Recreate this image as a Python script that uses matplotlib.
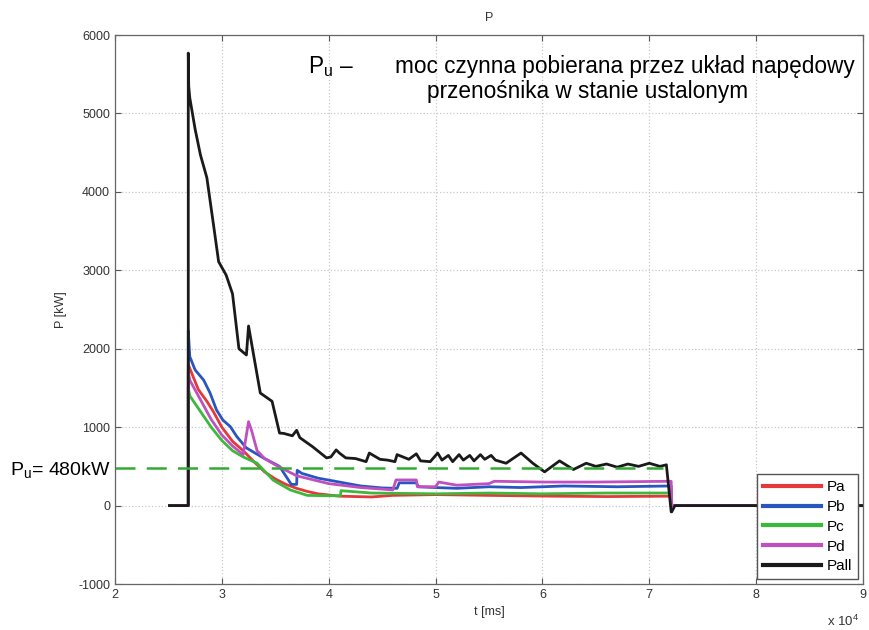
import matplotlib
matplotlib.use("Agg")
import matplotlib.pyplot as plt

plt.rcParams['font.family'] = ['Liberation Sans', 'DejaVu Sans']
plt.rcParams['mathtext.fontset'] = 'custom'
plt.rcParams['mathtext.rm'] = 'Liberation Sans'
plt.rcParams['mathtext.it'] = 'Liberation Sans'
plt.rcParams['axes.unicode_minus'] = False

# time in units of 10^4 ms, power in kW
pall_t = [2.51, 2.686, 2.686, 2.69, 2.70, 2.75, 2.80, 2.86, 2.92, 2.97, 3.04, 3.10,
          3.16, 3.23, 3.25, 3.30, 3.36, 3.47, 3.54, 3.58, 3.66, 3.70, 3.73, 3.85,
          3.98, 4.02, 4.07, 4.10, 4.16, 4.25, 4.35, 4.38, 4.48, 4.55, 4.62, 4.64,
          4.75, 4.82, 4.86, 4.95, 5.02, 5.06, 5.12, 5.16, 5.22, 5.26, 5.32, 5.36,
          5.42, 5.46, 5.52, 5.56, 5.66, 5.80, 5.91, 6.02, 6.16, 6.29, 6.41, 6.5,
          6.6, 6.7, 6.8, 6.9, 7.0, 7.1, 7.16, 7.205, 7.21, 7.24, 9.0]
pall_p = [0, 0, 5770, 5350, 5200, 4800, 4470, 4180, 3600, 3110, 2940, 2700,
          2000, 1920, 2290, 1900, 1435, 1330, 925, 920, 890, 960, 866, 750,
          608, 620, 710, 670, 608, 600, 560, 670, 590, 580, 560, 650,
          590, 660, 570, 560, 670, 580, 640, 560, 650, 580, 640, 570,
          650, 590, 640, 580, 540, 670, 540, 430, 570, 460, 540, 500,
          530, 490, 530, 500, 540, 500, 520, -80, -80, 0, 0]

pa_t = [2.51, 2.686, 2.686, 2.70, 2.78, 2.86, 2.92, 3.0, 3.1, 3.2, 3.3, 3.4,
        3.5, 3.6, 3.7, 3.8, 3.9, 4.1, 4.4, 4.6, 5.0, 5.5, 6.1, 6.6, 7.205, 7.21, 9.0]
pa_p = [0, 0, 1800, 1750, 1480, 1330, 1200, 1000, 820, 700, 560, 430,
        340, 270, 220, 180, 150, 120, 110, 130, 140, 130, 120, 115, 120, 0, 0]

pb_t = [2.51, 2.686, 2.686, 2.70, 2.75, 2.83, 2.89, 2.95, 3.01, 3.08, 3.14, 3.23,
        3.39, 3.54, 3.65, 3.70, 3.705, 3.75, 3.9, 4.1, 4.3, 4.5, 4.64, 4.66, 4.82,
        4.84, 5.0, 5.2, 5.5, 5.8, 6.2, 6.7, 7.205, 7.21, 9.0]
pb_p = [0, 0, 2230, 1900, 1730, 1600, 1435, 1220, 1090, 1006, 880, 735,
        607, 500, 270, 270, 450, 410, 350, 300, 250, 225, 220, 290, 290,
        240, 230, 220, 240, 230, 250, 240, 250, 0, 0]

pc_t = [2.51, 2.686, 2.686, 2.70, 2.8, 2.9, 3.0, 3.1, 3.2, 3.33, 3.48, 3.64,
        3.80, 3.95, 4.11, 4.115, 4.4, 5.0, 5.5, 6.0, 6.6, 7.205, 7.21, 9.0]
pc_p = [0, 0, 1500, 1400, 1200, 1000, 830, 700, 620, 540, 325, 200,
        130, 126, 126, 190, 160, 150, 160, 150, 160, 160, 0, 0]

pd_t = [2.51, 2.686, 2.686, 2.70, 2.8, 2.9, 3.0, 3.1, 3.2, 3.25, 3.28, 3.33,
        3.4, 3.5, 3.6, 3.7, 3.85, 4.0, 4.3, 4.6, 4.63, 4.82, 4.83, 5.0, 5.03,
        5.2, 5.5, 5.55, 6.0, 6.5, 7.205, 7.21, 9.0]
pd_p = [0, 0, 1700, 1600, 1350, 1100, 900, 760, 650, 1070, 950, 700,
        600, 520, 450, 380, 330, 280, 230, 200, 327, 327, 240, 240, 300,
        260, 280, 310, 300, 300, 310, 0, 0]

pu_value = 480
pu_t = [2.0, 7.13]

fig = plt.figure(figsize=(8.69, 6.30), dpi=100)
ax = fig.add_axes([0.1323, 0.0730, 0.8608, 0.8714])

ax.plot(pa_t, pa_p, color='#e23a3a', lw=2, label='Pa')
ax.plot(pb_t, pb_p, color='#2a55c0', lw=2, label='Pb')
ax.plot(pc_t, pc_p, color='#3cb83c', lw=2, label='Pc')
ax.plot(pd_t, pd_p, color='#c050c0', lw=2, label='Pd')
ax.plot(pall_t, pall_p, color='#1a1a1a', lw=2, label='Pall')
ax.plot(pu_t, [pu_value, pu_value], color='#33aa33', lw=1.8, dashes=(8, 4.5))

ax.set_xlim(2, 9)
ax.set_ylim(-1000, 6000)
ax.set_xticks(range(2, 10))
ax.set_yticks(range(-1000, 6001, 1000))
ax.grid(True, color='#c8c8c8', linestyle=':', linewidth=0.9)
ax.tick_params(direction='in', length=4, top=True, right=True, labelsize=9,
               labelcolor='#333333', color='#555555')
for s in ax.spines.values():
    s.set_color('#666666')
    s.set_linewidth(0.9)

ax.set_title('P', fontsize=9, color='#333333', pad=10)
ax.set_xlabel('t [ms]', fontsize=9, color='#333333', labelpad=4)
ax.set_ylabel('P [kW]', fontsize=9, color='#333333', labelpad=8)
fig.text(0.97, 0.006, r'x 10$^4$', fontsize=9.5, color='#333333', ha='center')

leg = ax.legend(loc='lower right', fontsize=11, handlelength=3.8, frameon=True,
                fancybox=False, framealpha=1, edgecolor='#555555',
                borderaxespad=0.3, labelspacing=0.38, handletextpad=0.4,
                borderpad=0.4)
for line in leg.get_lines():
    line.set_linewidth(3)

fig.text(308 / 869, 1 - 73 / 630, r'P$_\mathregular{u}$ –', fontsize=16.3, va='baseline')
fig.text(395 / 869, 1 - 73 / 630, 'moc czynna pobierana przez układ napędowy',
         fontsize=16.3, va='baseline')
fig.text(588 / 869, 1 - 98 / 630, 'przenośnika w stanie ustalonym',
         fontsize=16.3, va='baseline', ha='center')
fig.text(10 / 869, 1 - 475 / 630, r'P$_\mathregular{u}$= 480kW', fontsize=14, va='baseline')

fig.savefig('out.png', dpi=100)
